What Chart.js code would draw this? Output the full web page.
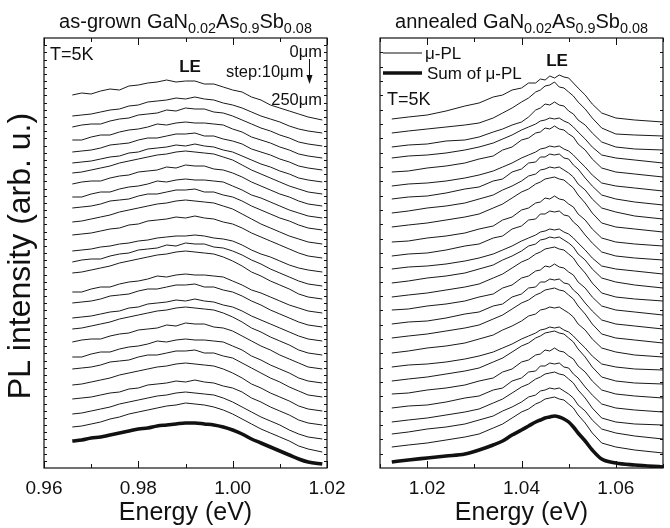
<!DOCTYPE html>
<html>
<head>
<meta charset="utf-8">
<script src="https://cdn.jsdelivr.net/npm/chart.js@4"></script>
<style>
  body { margin: 0; background: #fff; }
  #wrap { position: relative; width: 670px; height: 528px; }
  canvas { position: absolute; left: 0; top: 0; }
</style>
</head>
<body>
<div id="wrap">
  <canvas id="asGrownChart" width="670" height="528"></canvas>
  <canvas id="annealedChart" width="670" height="528"></canvas>
</div>
<script>
// energies (eV) where the spectra were read
const asGrownEnergy = [0.966, 0.968, 0.970, 0.972, 0.974, 0.976, 0.978, 0.980, 0.982, 0.984, 0.986, 0.988, 0.990,
  0.992, 0.994, 0.996, 0.998, 1.000, 1.002, 1.004, 1.006, 1.008, 1.010, 1.012, 1.014, 1.016, 1.019];
const annealedEnergy = [1.0125, 1.016, 1.020, 1.024, 1.028, 1.031, 1.034, 1.036, 1.038, 1.040, 1.0415, 1.043, 1.044,
  1.045, 1.046, 1.047, 1.048, 1.049, 1.050, 1.051, 1.052, 1.0535, 1.055, 1.057, 1.060, 1.064, 1.070];

// as-grown: 0 um (top) ... 250 um (bottom), shifted spectra, arb. u.
const asGrownSpectra = [
  [373,375,374,377,379,378,382,383,385,386,388,386,387,387,384,384,381,378,376,371,368,363,360,357,354,351,348],
  [352,353,354,356,358,359,362,363,366,367,368,370,369,371,369,368,365,363,360,356,352,349,346,342,339,337,335],
  [341,343,344,344,347,349,350,353,354,355,358,357,360,359,359,356,355,352,348,344,340,337,333,330,326,324,322],
  [328,328,331,333,333,336,338,339,341,344,343,345,346,345,345,344,343,339,336,331,328,325,321,318,314,312,310],
  [316,317,318,320,323,324,325,328,330,330,332,334,334,335,332,332,329,327,324,319,316,313,309,306,302,300,298],
  [305,306,307,309,311,312,315,316,319,320,321,323,322,324,322,321,318,316,312,308,304,301,297,294,290,288,286],
  [295,296,298,300,302,305,307,309,311,313,314,316,317,316,315,314,311,308,303,298,294,290,286,282,279,276,274],
  [284,286,287,287,290,292,293,296,297,298,301,300,303,302,302,299,298,295,291,286,282,278,274,271,267,264,262],
  [271,271,274,276,276,279,281,282,284,287,286,288,289,288,288,287,286,282,278,273,270,266,262,258,255,252,250],
  [260,261,262,264,267,268,269,272,274,274,276,278,278,279,276,276,273,271,267,262,258,254,250,247,243,240,238],
  [246,247,249,251,253,256,258,260,262,264,265,267,268,267,266,265,262,259,254,249,244,240,236,232,229,226,224],
  [233,234,235,237,239,240,243,244,247,248,249,251,250,252,250,249,246,244,240,235,231,227,223,219,215,212,210],
  [217,218,219,221,222,224,225,227,228,230,231,232,232,233,232,230,229,227,223,218,214,211,207,203,200,198,196],
  [206,208,209,209,212,214,215,218,219,220,223,222,225,224,224,221,220,217,213,208,204,199,195,191,187,184,182],
  [195,196,198,200,202,205,207,209,211,213,214,216,217,216,215,214,211,207,202,196,192,187,183,179,174,171,169],
  [176,176,179,181,181,184,186,187,189,192,191,193,194,193,193,192,191,187,183,178,175,171,167,163,160,157,155],
  [165,166,167,169,172,173,174,177,179,179,181,183,183,184,181,181,178,176,172,167,163,158,154,150,146,143,141],
  [150,151,152,154,156,157,160,161,164,165,166,168,167,169,167,166,163,161,157,152,148,144,140,136,132,129,127],
  [139,140,142,144,146,149,151,153,155,157,158,160,161,160,159,158,155,151,146,140,136,131,127,123,118,115,113],
  [126,128,129,129,132,134,135,138,139,140,143,142,145,144,144,141,140,137,132,127,122,118,113,109,105,101,99],
  [111,111,114,116,116,119,121,122,124,127,126,128,129,128,128,127,126,122,118,112,108,103,99,95,90,87,85],
  [99,100,101,103,106,107,108,111,113,113,115,117,117,118,115,115,112,110,105,100,95,90,86,81,77,73,71],
  [83,84,86,88,90,93,95,97,99,101,102,104,105,104,103,102,99,95,90,84,80,75,71,67,62,59,57],
  [69,70,71,73,75,76,79,80,83,84,85,87,86,88,86,85,82,80,76,70,66,61,57,53,48,45,43],
  [54,55,57,59,61,64,66,68,70,72,73,75,76,75,74,73,70,66,61,56,51,47,43,38,34,31,29],
  [41,42,44,46,49,51,54,56,58,60,62,63,65,64,63,61,58,54,49,44,39,35,31,27,22,19,16]
];
const asGrownSum = [27,28,30,31,33,35,37,39,40,42,43,44,45,45,44,43,41,38,34,29,25,21,17,13,9,6,4];

// annealed
const annealedSpectra = [
  [349,351,353,357,362,365,371,373,378,380,385,385,389,388,392,390,393,391,390,385,380,373,364,355,350,348,346],
  [335,337,339,341,343,345,350,355,360,366,370,376,378,382,383,386,381,380,376,372,366,359,350,340,334,333,332],
  [321,323,324,327,328,331,336,339,343,346,351,358,360,364,363,366,363,362,357,354,348,343,335,326,321,319,318],
  [310,312,313,315,318,321,325,329,333,338,341,344,347,348,350,349,350,347,345,341,336,329,321,313,310,308,305],
  [296,297,300,302,305,309,312,318,321,328,330,335,336,340,339,342,339,338,334,331,324,318,309,300,296,294,291],
  [282,284,285,287,290,293,297,301,305,310,313,316,319,320,322,321,322,319,317,313,308,301,293,285,282,280,277],
  [269,271,272,275,279,281,287,289,296,299,305,306,311,311,314,313,314,310,309,303,299,290,282,273,269,266,263],
  [255,257,260,262,265,269,273,278,282,287,292,294,298,299,301,300,301,298,295,291,284,278,269,260,256,252,249],
  [241,243,245,248,251,254,260,264,270,276,279,284,286,289,290,291,289,288,284,280,273,265,255,245,241,239,236],
  [226,227,230,232,235,239,242,248,251,258,260,265,266,270,269,272,269,268,264,261,254,248,239,230,226,224,222],
  [212,214,215,218,222,224,230,232,239,242,248,249,254,254,257,256,257,253,252,246,242,233,225,216,212,210,208],
  [199,201,202,204,207,210,214,218,222,227,230,233,236,237,239,238,239,236,234,230,225,218,210,202,199,197,194],
  [185,187,190,192,195,199,203,208,212,217,222,224,228,229,231,230,231,228,225,221,214,208,199,190,186,183,180],
  [171,173,175,178,181,184,190,194,200,206,209,214,216,219,220,221,219,218,214,210,203,195,185,175,171,169,167],
  [158,159,162,164,167,171,174,180,183,190,192,197,198,202,201,204,201,200,196,193,186,180,171,162,158,156,153],
  [144,146,147,150,154,156,162,164,171,174,180,181,186,186,189,188,189,185,184,178,174,165,157,148,144,142,139],
  [130,132,134,137,140,143,149,153,159,165,168,173,175,178,179,180,178,177,173,169,162,154,144,134,130,128,125],
  [115,117,120,122,125,129,133,138,142,147,152,154,158,159,161,160,161,158,155,151,144,138,129,120,116,113,111],
  [101,103,104,106,109,112,116,120,124,129,132,135,138,139,141,140,141,138,136,132,127,120,112,104,101,99,98],
  [87,89,91,94,97,100,106,110,116,122,125,130,132,135,136,137,135,134,130,126,119,111,101,91,87,85,84],
  [74,75,78,80,83,87,90,96,99,106,108,113,114,118,117,120,117,116,112,109,102,96,87,78,74,72,70],
  [60,62,63,66,70,72,78,80,87,90,96,97,102,102,105,104,105,101,100,94,90,81,73,64,60,58,56],
  [46,48,50,53,56,59,65,69,75,81,84,89,91,94,95,96,94,93,89,85,78,70,60,50,46,44,43],
  [34,36,39,41,44,48,52,57,61,66,71,73,77,78,80,79,80,77,74,70,63,57,48,39,35,32,29],
  [21,23,25,28,31,34,40,44,50,56,59,64,66,69,70,71,69,68,64,60,53,45,35,25,21,18,15]
];
const annealedSum = [6,8,10,12,14,18,23,27,33,38,42,46,48,50,51,52,51,49,46,41,35,27,18,9,5,3,1];

// axis ticks
const asGrownMajor = [0.96, 0.98, 1.00, 1.02];
const asGrownMinor = [0.97, 0.99, 1.01];
const annealedMajor = [1.02, 1.04, 1.06];
const annealedMinor = [1.01, 1.03, 1.05, 1.07];

const FONT = '"Liberation Sans", Arial, Helvetica, sans-serif';

function buildDatasets(energy, spectra, sum) {
  const sets = spectra.map(s => ({
    data: s.map((v, i) => ({ x: energy[i], y: v })),
    borderColor: '#1a1a1a',
    borderWidth: 1,
    pointRadius: 0,
    tension: 0
  }));
  sets.push({
    data: sum.map((v, i) => ({ x: energy[i], y: v })),
    borderColor: '#111',
    borderWidth: 3.6,
    pointRadius: 0,
    cubicInterpolationMode: 'monotone'
  });
  return sets;
}

// draws a text made of [text, isSubscript] parts, centred on cx
function richText(ctx, parts, cx, y, size) {
  const sub = size * 0.72;
  let w = 0;
  parts.forEach(([t, s]) => {
    ctx.font = (s ? sub : size) + 'px ' + FONT;
    w += ctx.measureText(t).width;
  });
  let x = cx - w / 2;
  ctx.textAlign = 'left';
  ctx.textBaseline = 'alphabetic';
  parts.forEach(([t, s]) => {
    ctx.font = (s ? sub : size) + 'px ' + FONT;
    ctx.fillText(t, x, s ? y + size * 0.25 : y);
    x += ctx.measureText(t).width;
  });
}

// frame, ticks and all texts of one panel
const panelDecor = {
  id: 'panelDecor',
  afterDraw(chart, args, o) {
    const { ctx, chartArea: a, scales: { x } } = chart;
    ctx.save();
    ctx.fillStyle = '#111';
    ctx.strokeStyle = '#111';
    ctx.lineWidth = 1.2;
    ctx.strokeRect(a.left, a.top, a.right - a.left, a.bottom - a.top);

    ctx.lineWidth = 1;
    ctx.beginPath();
    o.major.forEach(v => {
      const px = Math.round(x.getPixelForValue(v)) + 0.5;
      ctx.moveTo(px, a.bottom); ctx.lineTo(px, a.bottom - 7);
      ctx.moveTo(px, a.top); ctx.lineTo(px, a.top + 7);
    });
    o.minor.forEach(v => {
      const px = Math.round(x.getPixelForValue(v)) + 0.5;
      ctx.moveTo(px, a.bottom); ctx.lineTo(px, a.bottom - 4);
      ctx.moveTo(px, a.top); ctx.lineTo(px, a.top + 4);
    });
    const h = a.bottom - a.top;
    for (let i = 1; i < o.yTicks; i++) {
      const py = Math.round(a.bottom - h * i / o.yTicks) + 0.5;
      ctx.moveTo(a.left, py); ctx.lineTo(a.left + 3, py);
      ctx.moveTo(a.right, py); ctx.lineTo(a.right - 3, py);
    }
    ctx.stroke();

    ctx.font = '19px ' + FONT;
    ctx.textAlign = 'center';
    ctx.textBaseline = 'middle';
    o.major.forEach(v => ctx.fillText(v.toFixed(2), x.getPixelForValue(v), 489));

    const cx = (a.left + a.right) / 2;
    ctx.font = '25px ' + FONT;
    ctx.fillText('Energy (eV)', cx, 513);

    richText(ctx, o.title, cx, 28, 20);

    o.notes.forEach(n => {
      ctx.font = (n.bold ? 'bold ' : '') + n.size + 'px ' + FONT;
      ctx.textAlign = n.align || 'left';
      ctx.textBaseline = 'middle';
      ctx.fillText(n.text, n.x, n.y);
    });

    if (o.arrow) {
      const [ax, y0, y1] = o.arrow;
      ctx.beginPath();
      ctx.moveTo(ax, y0); ctx.lineTo(ax, y1 - 6);
      ctx.stroke();
      ctx.beginPath();
      ctx.moveTo(ax - 3, y1 - 9); ctx.lineTo(ax + 3, y1 - 9); ctx.lineTo(ax, y1);
      ctx.closePath(); ctx.fill();
    }
    if (o.legend) {
      ctx.lineWidth = 1;
      ctx.beginPath(); ctx.moveTo(383, 53); ctx.lineTo(422, 53); ctx.stroke();
      ctx.lineWidth = 3.6;
      ctx.beginPath(); ctx.moveTo(383, 73); ctx.lineTo(422, 73); ctx.stroke();
    }
    if (o.yTitle) {
      ctx.translate(21, 256);
      ctx.rotate(-Math.PI / 2);
      ctx.font = '32px ' + FONT;
      ctx.textAlign = 'center';
      ctx.textBaseline = 'middle';
      ctx.fillText('PL intensity (arb. u.)', 0, 0);
    }
    ctx.restore();
  }
};

function makeChart(id, energy, spectra, sum, xmin, xmax, padding, decor) {
  return new Chart(document.getElementById(id), {
    type: 'line',
    data: { datasets: buildDatasets(energy, spectra, sum) },
    options: {
      responsive: false,
      animation: false,
      layout: { padding },
      scales: {
        x: { type: 'linear', min: xmin, max: xmax, display: false },
        y: { min: 0, max: 430, display: false }
      },
      plugins: { legend: { display: false }, tooltip: { enabled: false }, panelDecor: decor }
    },
    plugins: [panelDecor]
  });
}

makeChart('asGrownChart', asGrownEnergy, asGrownSpectra, asGrownSum, 0.96, 1.02,
  { left: 44, top: 38, right: 343, bottom: 60 },
  {
    major: asGrownMajor, minor: asGrownMinor, yTicks: 60, yTitle: true,
    title: [['as-grown GaN', 0], ['0.02', 1], ['As', 0], ['0.9', 1], ['Sb', 0], ['0.08', 1]],
    notes: [
      { text: 'T=5K', x: 50, y: 55, size: 18 },
      { text: 'LE', x: 190, y: 67, size: 17, bold: true, align: 'center' },
      { text: '0μm', x: 322, y: 52, size: 16.5, align: 'right' },
      { text: 'step:10μm', x: 226, y: 72, size: 16.5 },
      { text: '250μm', x: 322, y: 100, size: 16.5, align: 'right' }
    ],
    arrow: [309.5, 59, 84]
  });

makeChart('annealedChart', annealedEnergy, annealedSpectra, annealedSum, 1.01, 1.07,
  { left: 380, top: 38, right: 7, bottom: 60 },
  {
    major: annealedMajor, minor: annealedMinor, yTicks: 30, legend: true,
    title: [['annealed GaN', 0], ['0.02', 1], ['As', 0], ['0.9', 1], ['Sb', 0], ['0.08', 1]],
    notes: [
      { text: 'μ-PL', x: 425, y: 54, size: 17 },
      { text: 'Sum of μ-PL', x: 427, y: 74, size: 17 },
      { text: 'LE', x: 557, y: 61, size: 17, bold: true, align: 'center' },
      { text: 'T=5K', x: 387, y: 100, size: 18 }
    ]
  });
</script>
</body>
</html>
